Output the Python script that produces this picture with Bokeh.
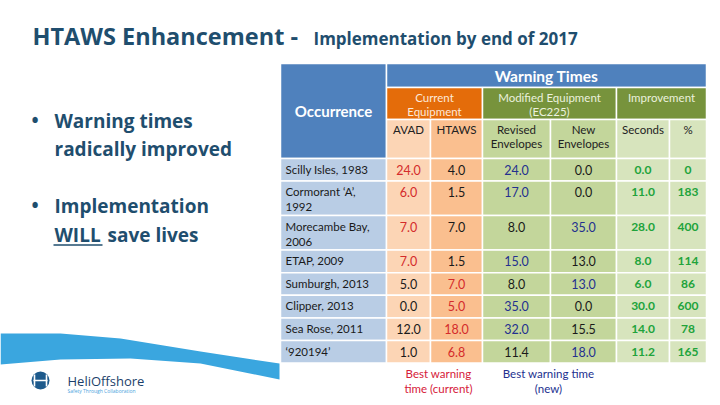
from bokeh.plotting import figure
from bokeh.models import Range1d, ColumnDataSource
from bokeh.core.properties import value
from bokeh.embed import file_html
from bokeh.resources import INLINE

# ---------------- data ----------------
names = ["Scilly Isles, 1983", "Cormorant \u2018A\u2019,\n1992", "Morecambe Bay,\n2006",
         "ETAP, 2009", "Sumburgh, 2013", "Clipper, 2013", "Sea Rose, 2011", "\u2018920194\u2019"]
avad = [24.0, 6.0, 7.0, 7.0, 5.0, 0.0, 12.0, 1.0]
htaws = [4.0, 1.5, 7.0, 1.5, 7.0, 5.0, 18.0, 6.8]
revised = [24.0, 17.0, 8.0, 15.0, 8.0, 35.0, 32.0, 11.4]
new_env = [0.0, 0.0, 35.0, 13.0, 13.0, 0.0, 15.5, 18.0]
impr_sec = [0.0, 11.0, 28.0, 8.0, 6.0, 30.0, 14.0, 11.2]
impr_pct = [0, 183, 400, 114, 86, 600, 78, 165]

title_main = "HTAWS Enhancement -"
title_sub = "Implementation by end of 2017"
bullets = [["Warning times", "radically improved"], ["Implementation", "WILL save lives"]]
group_labels = ["Current\nEquipment", "Modified Equipment\n(EC225)", "Improvement"]
sub_labels = ["AVAD", "HTAWS", "Revised\nEnvelopes", "New\nEnvelopes", "Seconds", "%"]
notes = ["Best warning\ntime (current)", "Best warning time\n(new)"]

# ---------------- styles ----------------
TFONT = value("Lato")
HFONT = value("Open Sans")
DARK = "#1f4e6e"
BLUE_HDR = "#4f81bd"
ORANGE_HDR = "#e46c0a"
GREEN_HDR = "#77933c"
NAME_BG = "#b9cde5"
COL_BG = ["#fcd5b5", "#fabf8f", "#c3d69b", "#c3d69b", "#d7e4bd", "#d7e4bd"]
RED = "#d42b2b"
NAVY = "#23308f"
GREEN_TXT = "#21a33b"

W, H = 712, 397
p = figure(width=W, height=H, x_range=Range1d(0, W), y_range=Range1d(H, 0),
           output_backend="svg", toolbar_location=None, min_border=0,
           background_fill_color="white", border_fill_color="white")
p.axis.visible = False
p.grid.visible = False
p.outline_line_color = None


def txt(xs, ys, texts, size, color, align="center", baseline="middle", style="normal", font=TFONT):
    src = ColumnDataSource(dict(x=xs, y=ys, t=texts, c=color if isinstance(color, list) else [color] * len(xs)))
    p.text(x="x", y="y", text="t", source=src, text_font=font, text_font_size=size,
           text_color="c", text_align=align, text_baseline=baseline, text_font_style=style,
           text_line_height=1.15)


# ---------------- decoration: swoosh + logo ----------------
sw_x = [0, 60, 120, 200, 279, 279, 200, 130, 60, 0]
sw_y = [333, 333, 338, 351, 363, 379, 363, 358, 359, 364]
p.patch(sw_x, sw_y, fill_color="#3aa6df", line_color=None)
p.circle(x=[40], y=[380], radius=9, fill_color="#1d5a8c", line_color=None)
p.segment(x0=[34, 46, 33], y0=[374, 374, 380], x1=[34, 46, 47], y1=[386, 386, 380],
          line_color="white", line_width=1.6)
txt([67], [380], ["HeliOffshore"], "13px", "#1c3f6b", align="left", font=HFONT)
txt([67], [390.5], ["Safety Through Collaboration"], "5px", "#4aa3dc", align="left", font=HFONT)

# ---------------- title ----------------
txt([32], [35.5], [title_main], "23.5px", DARK, align="left", style="bold", font=HFONT)
txt([313], [38], [title_sub], "17px", DARK, align="left", style="bold", font=HFONT)

# ---------------- bullets ----------------
bx, tx = 31, 54
b_mid = [120, 205]
for i, lines in enumerate(bullets):
    y0 = b_mid[i]
    txt([bx], [y0 - 1], ["\u2022"], "19px", DARK, align="left", style="bold", font=HFONT)
    txt([tx], [y0], [lines[0]], "19px", DARK, align="left", style="bold", font=HFONT)
    second = lines[1]
    if second.startswith("WILL"):
        txt([tx], [y0 + 29.5], ["WILL"], "19px", DARK, align="left", style="bold", font=HFONT)
        txt([107], [y0 + 29.5], [second[5:]], "19px", DARK, align="left", style="bold", font=HFONT)
        p.segment(x0=[tx - 1], y0=[y0 + 39.5], x1=[102], y1=[y0 + 39.5], line_color=DARK, line_width=1.6)
    else:
        txt([tx], [y0 + 28], [second], "19px", DARK, align="left", style="bold", font=HFONT)

# ---------------- table layout ----------------
col_edges = [280, 386, 430, 482, 550, 616, 669, 706]
hdr_top, hdr1, hdr2, hdr3 = 63, 87, 119, 158
single_h, double_h = 22.6, 34.5

row_tops = []
y = hdr3
for n in names:
    row_tops.append(y)
    y += double_h if "\n" in n else single_h
table_bottom = y
row_bottoms = row_tops[1:] + [table_bottom]

lw = 1.5
p.quad(left=[col_edges[0]], right=[col_edges[1]], top=[hdr_top], bottom=[hdr3],
       fill_color=BLUE_HDR, line_color="white", line_width=lw)
p.quad(left=[col_edges[1]], right=[col_edges[-1]], top=[hdr_top], bottom=[hdr1],
       fill_color=BLUE_HDR, line_color="white", line_width=lw)
grp_edges = [(col_edges[1], col_edges[3]), (col_edges[3], col_edges[5]), (col_edges[5], col_edges[7])]
grp_cols = [ORANGE_HDR, GREEN_HDR, GREEN_HDR]
p.quad(left=[g[0] for g in grp_edges], right=[g[1] for g in grp_edges], top=[hdr1] * 3, bottom=[hdr2] * 3,
       fill_color=grp_cols, line_color="white", line_width=lw)
p.quad(left=col_edges[1:-1], right=col_edges[2:], top=[hdr2] * 6, bottom=[hdr3] * 6,
       fill_color=COL_BG, line_color="white", line_width=lw)

L, R, T, B, F = [], [], [], [], []
for r in range(len(names)):
    cols = [NAME_BG] + COL_BG
    for c in range(7):
        L.append(col_edges[c]); R.append(col_edges[c + 1])
        T.append(row_tops[r]); B.append(row_bottoms[r]); F.append(cols[c])
p.quad(left=L, right=R, top=T, bottom=B, fill_color=F, line_color="white", line_width=lw)

# header texts
txt([(col_edges[0] + col_edges[1]) / 2], [(hdr_top + hdr3) / 2], ["Occurrence"], "15px", "white", style="bold")
txt([(col_edges[1] + col_edges[-1]) / 2], [(hdr_top + hdr1) / 2], ["Warning Times"], "15.5px", "white", style="bold")
grp_txt_col = ["#fde9d9", "#ebf1de", "#ebf1de"]
for g, lab, cc in zip(grp_edges, group_labels, grp_txt_col):
    txt([(g[0] + g[1]) / 2], [hdr1 + 3], [lab], "11.5px", cc, baseline="top")
for c, lab in enumerate(sub_labels):
    txt([(col_edges[c + 1] + col_edges[c + 2]) / 2], [hdr2 + 3], [lab], "11.5px", "#222222", baseline="top")

# body texts
nx = [col_edges[0] + 5] * len(names)
ny = [t + 4 for t in row_tops]
txt(nx, ny, names, "11.5px", "#1a1a1a", align="left", baseline="top")

num_y = [t + 11 for t in row_tops]
series = [avad, htaws, revised, new_env]
for c, s in enumerate(series):
    colors = []
    for r in range(len(names)):
        if c < 2:
            best = 0 if avad[r] >= htaws[r] else 1
            colors.append(RED if best == c else "#1a1a1a")
        else:
            best = 2 if revised[r] >= new_env[r] else 3
            colors.append(NAVY if best == c else "#1a1a1a")
    cx = (col_edges[c + 1] + col_edges[c + 2]) / 2
    txt([cx] * len(s), num_y, ["%.1f" % v for v in s], "12.5px", colors)
txt([(col_edges[5] + col_edges[6]) / 2] * len(impr_sec), num_y, ["%.1f" % v for v in impr_sec],
    "12px", GREEN_TXT, style="bold")
txt([(col_edges[6] + col_edges[7]) / 2] * len(impr_pct), num_y, ["%d" % v for v in impr_pct],
    "12px", GREEN_TXT, style="bold")

# notes under table
txt([(col_edges[1] + col_edges[3]) / 2 + 4], [table_bottom + 4], [notes[0]], "11.5px", "#d6203a", baseline="top")
txt([(col_edges[3] + col_edges[5]) / 2 - 1], [table_bottom + 4], [notes[1]], "11.5px", NAVY, baseline="top")

open("out.html", "w").write(file_html(p, INLINE))
